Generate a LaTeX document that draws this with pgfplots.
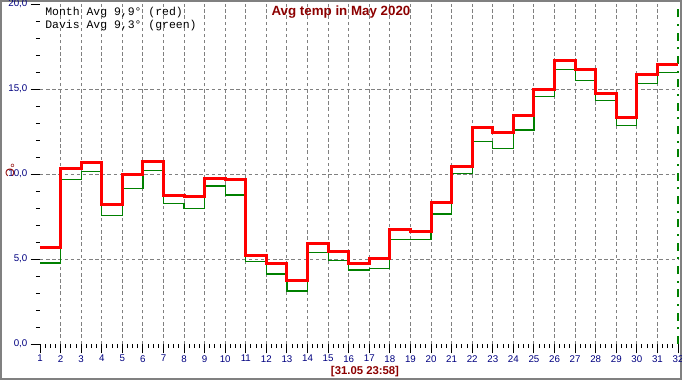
\documentclass[border=0pt]{standalone}
\usepackage{pgfplots}
\pgfplotsset{compat=1.18}
\usepackage{fontspec}
\setmainfont{Liberation Sans}
\setsansfont{Liberation Sans}
\setmonofont{Liberation Mono}
\definecolor{navyc}{RGB}{0,0,128}
\definecolor{darkr}{RGB}{140,0,0}
\definecolor{gr}{RGB}{0,128,0}
\definecolor{gridg}{RGB}{128,128,128}
\begin{document}
\begin{tikzpicture}
\useasboundingbox (-30pt,-27pt) rectangle (481.5pt,258pt);
\draw[gridg,line width=1.2pt] (-29.4pt,-26.4pt) rectangle (480.9pt,257.4pt);
\begin{axis}[
  at={(0,0)}, anchor=south west,
  scale only axis, width=478.5pt, height=255pt,
  xmin=1, xmax=32, ymin=0, ymax=20,
  axis x line*=bottom, axis y line*=left,
  axis line style={draw=none},
  xtick={1,...,32}, ytick={0,5,10,15,20},
  minor x tick num=3, minor y tick num=4,
  tick align=outside,
  major tick length=7pt, minor tick length=3pt,
  every tick/.style={black,line width=0.75pt},
  /pgf/number format/assume math mode=true,
  ticklabel style={font=\fontsize{7.3}{8}\selectfont, text=navyc},
  yticklabel style={/pgf/number format/fixed, /pgf/number format/fixed zerofill, /pgf/number format/precision=1, /pgf/number format/use comma, xshift=1pt},
  xticklabel style={/pgf/number format/precision=0, inner sep=1.2pt},
  clip=false,
]
\pgfplotsinvokeforeach{2,...,31}{
  \draw[gridg,line width=0.75pt,dash pattern=on 2.6pt off 2pt] (axis cs:#1,0) -- (axis cs:#1,20);
}
\pgfplotsinvokeforeach{5,10,15}{
  \draw[gridg,line width=0.75pt,dash pattern=on 2.6pt off 2pt] (axis cs:1,#1) -- (axis cs:32,#1);
}
\draw[gr,line width=0.8pt,dash pattern=on 6pt off 5pt on 1.5pt off 5pt] (axis cs:32,0) -- (axis cs:32,20);
\addplot[const plot, gr, line width=0.9pt, mark=none] coordinates {
(1,4.77) (2,9.69) (3,10.16) (4,7.57) (5,9.16) (6,10.22) (7,8.27) (8,7.98) (9,9.29) (10,8.76)
(11,4.86) (12,4.12) (13,3.12) (14,5.39) (15,4.92) (16,4.35) (17,4.45) (18,6.16) (19,6.16) (20,7.65)
(21,10.04) (22,11.92) (23,11.51) (24,12.59) (25,14.55) (26,16.16) (27,15.51) (28,14.33) (29,12.84) (30,15.33)
(31,15.98) (32,15.98)};
\addplot[const plot, red, line width=2.25pt, mark=none] coordinates {
(1,5.65) (2,10.33) (3,10.67) (4,8.18) (5,10.0) (6,10.76) (7,8.76) (8,8.67) (9,9.75) (10,9.65)
(11,5.2) (12,4.73) (13,3.76) (14,5.94) (15,5.47) (16,4.73) (17,5.02) (18,6.72) (19,6.62) (20,8.31)
(21,10.43) (22,12.75) (23,12.43) (24,13.45) (25,15.0) (26,16.69) (27,16.12) (28,14.76) (29,13.35) (30,15.88)
(31,16.47) (32,16.47)};
\end{axis}
\node[text=darkr,font=\bfseries\fontsize{10}{12}\selectfont] at (225.75pt,249pt) {Avg temp in May 2020};
\node[anchor=west,inner sep=0pt,font=\ttfamily\fontsize{8.6}{10}\selectfont] at (3.75pt,248.25pt) {Month Avg 9,9° (red)};
\node[anchor=west,inner sep=0pt,font=\ttfamily\fontsize{8.6}{10}\selectfont] at (3.75pt,238.5pt) {Davis Avg 9,3° (green)};
\node[text=darkr,rotate=-90,inner sep=0pt,font=\fontsize{9}{10}\selectfont] at (-22.5pt,130.5pt) {°C};
\node[text=darkr,inner sep=0pt,font=\bfseries\fontsize{8.5}{10}\selectfont] at (243.75pt,-20.5pt) {[31.05 23:58]};
\end{tikzpicture}
\end{document}
